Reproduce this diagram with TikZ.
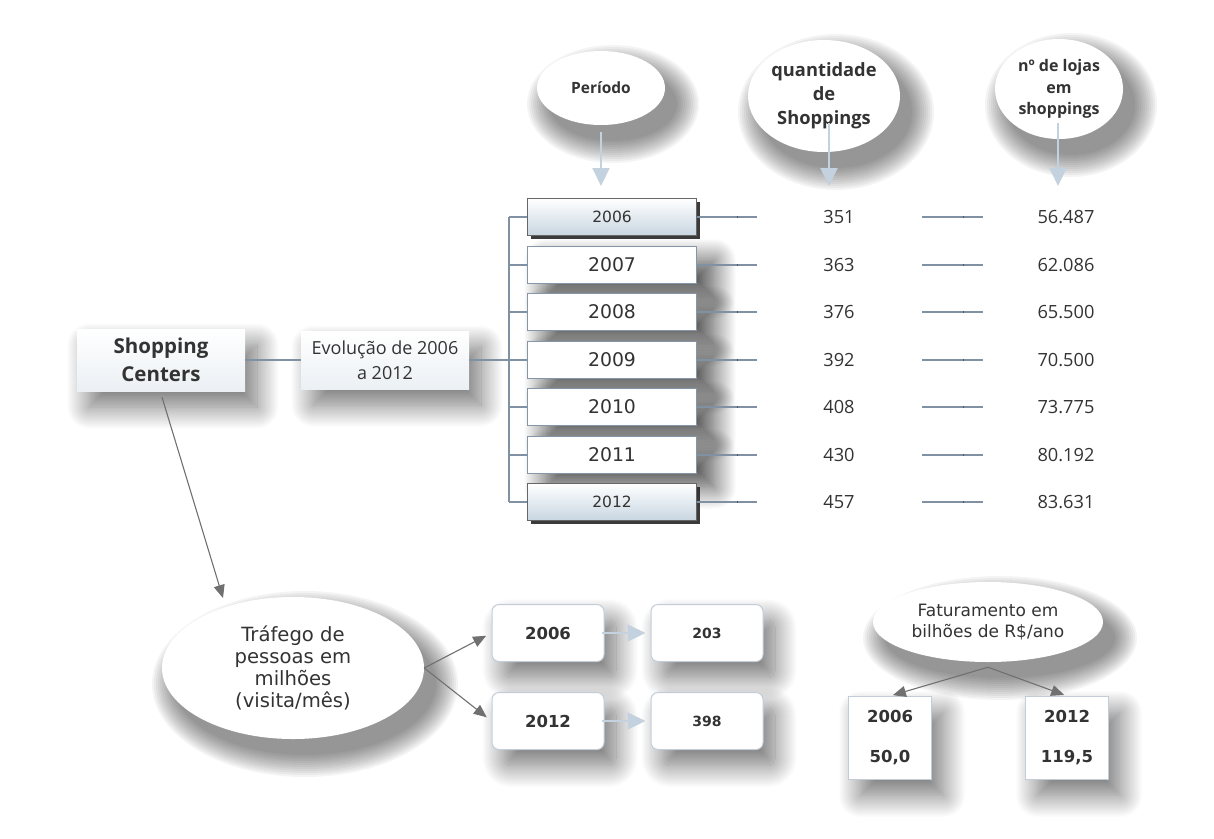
\documentclass[tikz,border=0pt]{standalone}
\usepackage{fontspec}
\setmainfont{Open Sans}
\newfontfamily\ver{DejaVu Sans}
\usetikzlibrary{shadows,shadows.blur,arrows.meta,calc,shapes.geometric}
\definecolor{txt}{HTML}{333333}
\definecolor{conn}{HTML}{7F91A3}
\definecolor{lite}{HTML}{C3D2DE}
\definecolor{darkarr}{HTML}{707070}
\definecolor{bord}{HTML}{8496A8}
\definecolor{gradb}{HTML}{C8D6E1}
\definecolor{rbord}{HTML}{C2CDD8}
\definecolor{glow}{HTML}{EBF0F4}
\begin{document}
\begin{tikzpicture}[x=1pt,y=-1pt,
  every node/.style={text=txt, align=center, inner sep=0pt},
  softshadow/.style={blur shadow={shadow xshift=12pt,shadow yshift=-16pt,shadow blur steps=30,shadow opacity=55,shadow blur radius=22pt}},
  ell/.style={ellipse, fill=white},
  yearbox/.style={rectangle, draw=bord, line width=1.2pt, fill=white, minimum width=169pt, minimum height=37pt, font=\ver\fontsize{18.8}{20}\selectfont, blur shadow={shadow xshift=18pt,shadow yshift=-14pt,shadow blur steps=30,shadow opacity=70,shadow blur radius=22pt}},
  gradbox/.style={rectangle, draw=black!60, line width=1pt, top color=white, bottom color=gradb, minimum width=169pt, minimum height=37pt, font=\ver\fontsize{15.5}{18}\selectfont, drop shadow={shadow xshift=3.5pt,shadow yshift=-3.5pt,opacity=0.9,fill=black!85}},
  mainbox/.style={rectangle, top color=white, bottom color=glow, softshadow},
  rbox/.style={rectangle, rounded corners=7pt, draw=rbord, line width=1pt, fill=white, minimum width=112pt, minimum height=57pt, softshadow},
  fbox/.style={rectangle, draw=rbord, line width=1pt, fill=white, minimum width=83pt, minimum height=83pt, softshadow, font=\ver\bfseries\fontsize{16.5}{40}\selectfont},
  numtxt/.style={font=\fontsize{18.2}{20}\selectfont},
  conline/.style={draw=conn, line width=1.2pt},
  litearrow/.style={draw=lite, line width=2pt, -{Triangle[length=18pt,width=17pt]}},
  darkarrow/.style={draw=darkarr, line width=1.1pt, -{Triangle[length=13pt,width=11pt]}}
]
\useasboundingbox (0,0) rectangle (1214,838);

% soft shadows of the ellipses (stacked translucent ellipses)
\foreach \cx/\cy/\rx/\ry in {601/88/64/37, 824/96/76/56, 1059/89/64/50, 293/668/131/71, 988/622/115/40}{
  \foreach \d in {0,2,...,22}{
    \fill[black, opacity=0.045] (\cx+12,\cy+16) ellipse [x radius={(\rx+22-\d)*1pt}, y radius={(\ry+22-\d)*1pt}];
  }
}

% top ellipses
\node[ell, minimum width=128pt, minimum height=74pt, font=\bfseries\fontsize{15.5}{17}\selectfont] (per) at (601,88) {Período};
\node[ell, minimum width=152pt, minimum height=112pt, font=\bfseries\fontsize{18.3}{24}\selectfont] (qty) at (824,96) {quantidade\\de\\Shoppings};
\node[ell, minimum width=128pt, minimum height=100pt, font=\bfseries\fontsize{16}{21.5}\selectfont] (nl) at (1059,89) {nº de lojas\\em\\shoppings};

% main boxes
\node[mainbox, minimum width=168pt, minimum height=62pt, font=\bfseries\fontsize{20.5}{28}\selectfont] (sc) at (161,360) {Shopping\\Centers};
\node[mainbox, minimum width=168pt, minimum height=58pt, font=\fontsize{18}{25}\selectfont] (evo) at (385,360) {Evolução de 2006\\a 2012};

% year boxes
\node[gradbox] (y1) at (612,217) {2006};
\node[yearbox] (y2) at (612,265) {2007};
\node[yearbox] (y3) at (612,312) {2008};
\node[yearbox] (y4) at (612,360) {2009};
\node[yearbox] (y5) at (612,407) {2010};
\node[yearbox] (y6) at (612,455) {2011};
\node[gradbox] (y7) at (612,502) {2012};

% numbers
\foreach \i/\yy/\a/\b in {1/217/351/56.487, 2/265/363/62.086, 3/312/376/65.500, 4/360/392/70.500, 5/407/408/73.775, 6/455/430/80.192, 7/502/457/83.631}{
  \node[numtxt] (n\i) at (839,\yy) {\a};
  \node[numtxt] (m\i) at (1066,\yy) {\b};
  \draw[conline] (y\i.east) -- ++(60,0);
  \draw[conline] ($(n\i)+(83,0)$) -- ++(61,0);
  \draw[conn!60!black, line width=1pt] ($(y\i.east)+(40,-1)$) -- ++(0,2);
  \draw[conn!60!black, line width=1pt] ($(n\i)+(124,-1)$) -- ++(0,2);
}

% bracket
\coordinate (br) at (509,360);
\draw[conline] (sc.east) -- (evo.west);
\draw[conline] (evo.east) -- (br);
\draw[conline] (br |- y1.west) -- (br |- y7.west);
\foreach \i in {1,...,7}{\draw[conline] (br |- y\i.west) -- (y\i.west);}

% header arrows
\draw[litearrow, shorten <=7pt, shorten >=12pt] (per.south) -- (per.south |- y1.north);
\coordinate (qa) at ($(qty.center)+(5,27)$);
\draw[litearrow, shorten >=12pt] (qa) -- (qa |- y1.north);
\coordinate (na) at ($(nl.center)+(-1,34)$);
\draw[litearrow, shorten >=12pt] (na) -- (na |- y1.north);

% traffic
\node[ell, minimum width=262pt, minimum height=142pt, font=\ver\fontsize{19.6}{22}\selectfont] (traf) at (293,668) {Tráfego de\\pessoas em\\milhões\\(visita/mês)};
\coordinate (tip1) at (223,598);
\draw[darkarrow] ($(sc.south)+(1,6)$) -- (tip1);

\node[rbox, font=\ver\bfseries\fontsize{16.5}{20}\selectfont] (b06) at (548,633) {2006};
\node[rbox, font=\ver\bfseries\fontsize{16.5}{20}\selectfont] (b12) at (548,721) {2012};
\node[rbox, font=\ver\bfseries\fontsize{14}{18}\selectfont] (v203) at (707,633) {203};
\node[rbox, font=\ver\bfseries\fontsize{14}{18}\selectfont] (v398) at (707,721) {398};

\draw[darkarrow, shorten >=6pt] (traf.east) -- (b06.west);
\draw[darkarrow, shorten >=6pt] (traf.east) -- (b12.west);
\draw[litearrow, shorten <=-3pt, shorten >=5pt] (b06.east) -- (v203.west);
\draw[litearrow, shorten <=-3pt, shorten >=5pt] (b12.east) -- (v398.west);

% faturamento
\node[ell, minimum width=230pt, minimum height=80pt, font=\ver\fontsize{17}{20.5}\selectfont] (fat) at (988,622) {Faturamento em\\bilhões de R\$/ano};
\node[fbox] (f06) at (890,738) {2006\\50,0};
\node[fbox] (f12) at (1067,738) {2012\\119,5};
\coordinate (fs) at ($(fat.south)+(0,5)$);
\draw[darkarrow, shorten >=3pt] (fs) -- (f06.north);
\draw[darkarrow, shorten >=3pt] (fs) -- (f12.north);
\end{tikzpicture}
\end{document}
